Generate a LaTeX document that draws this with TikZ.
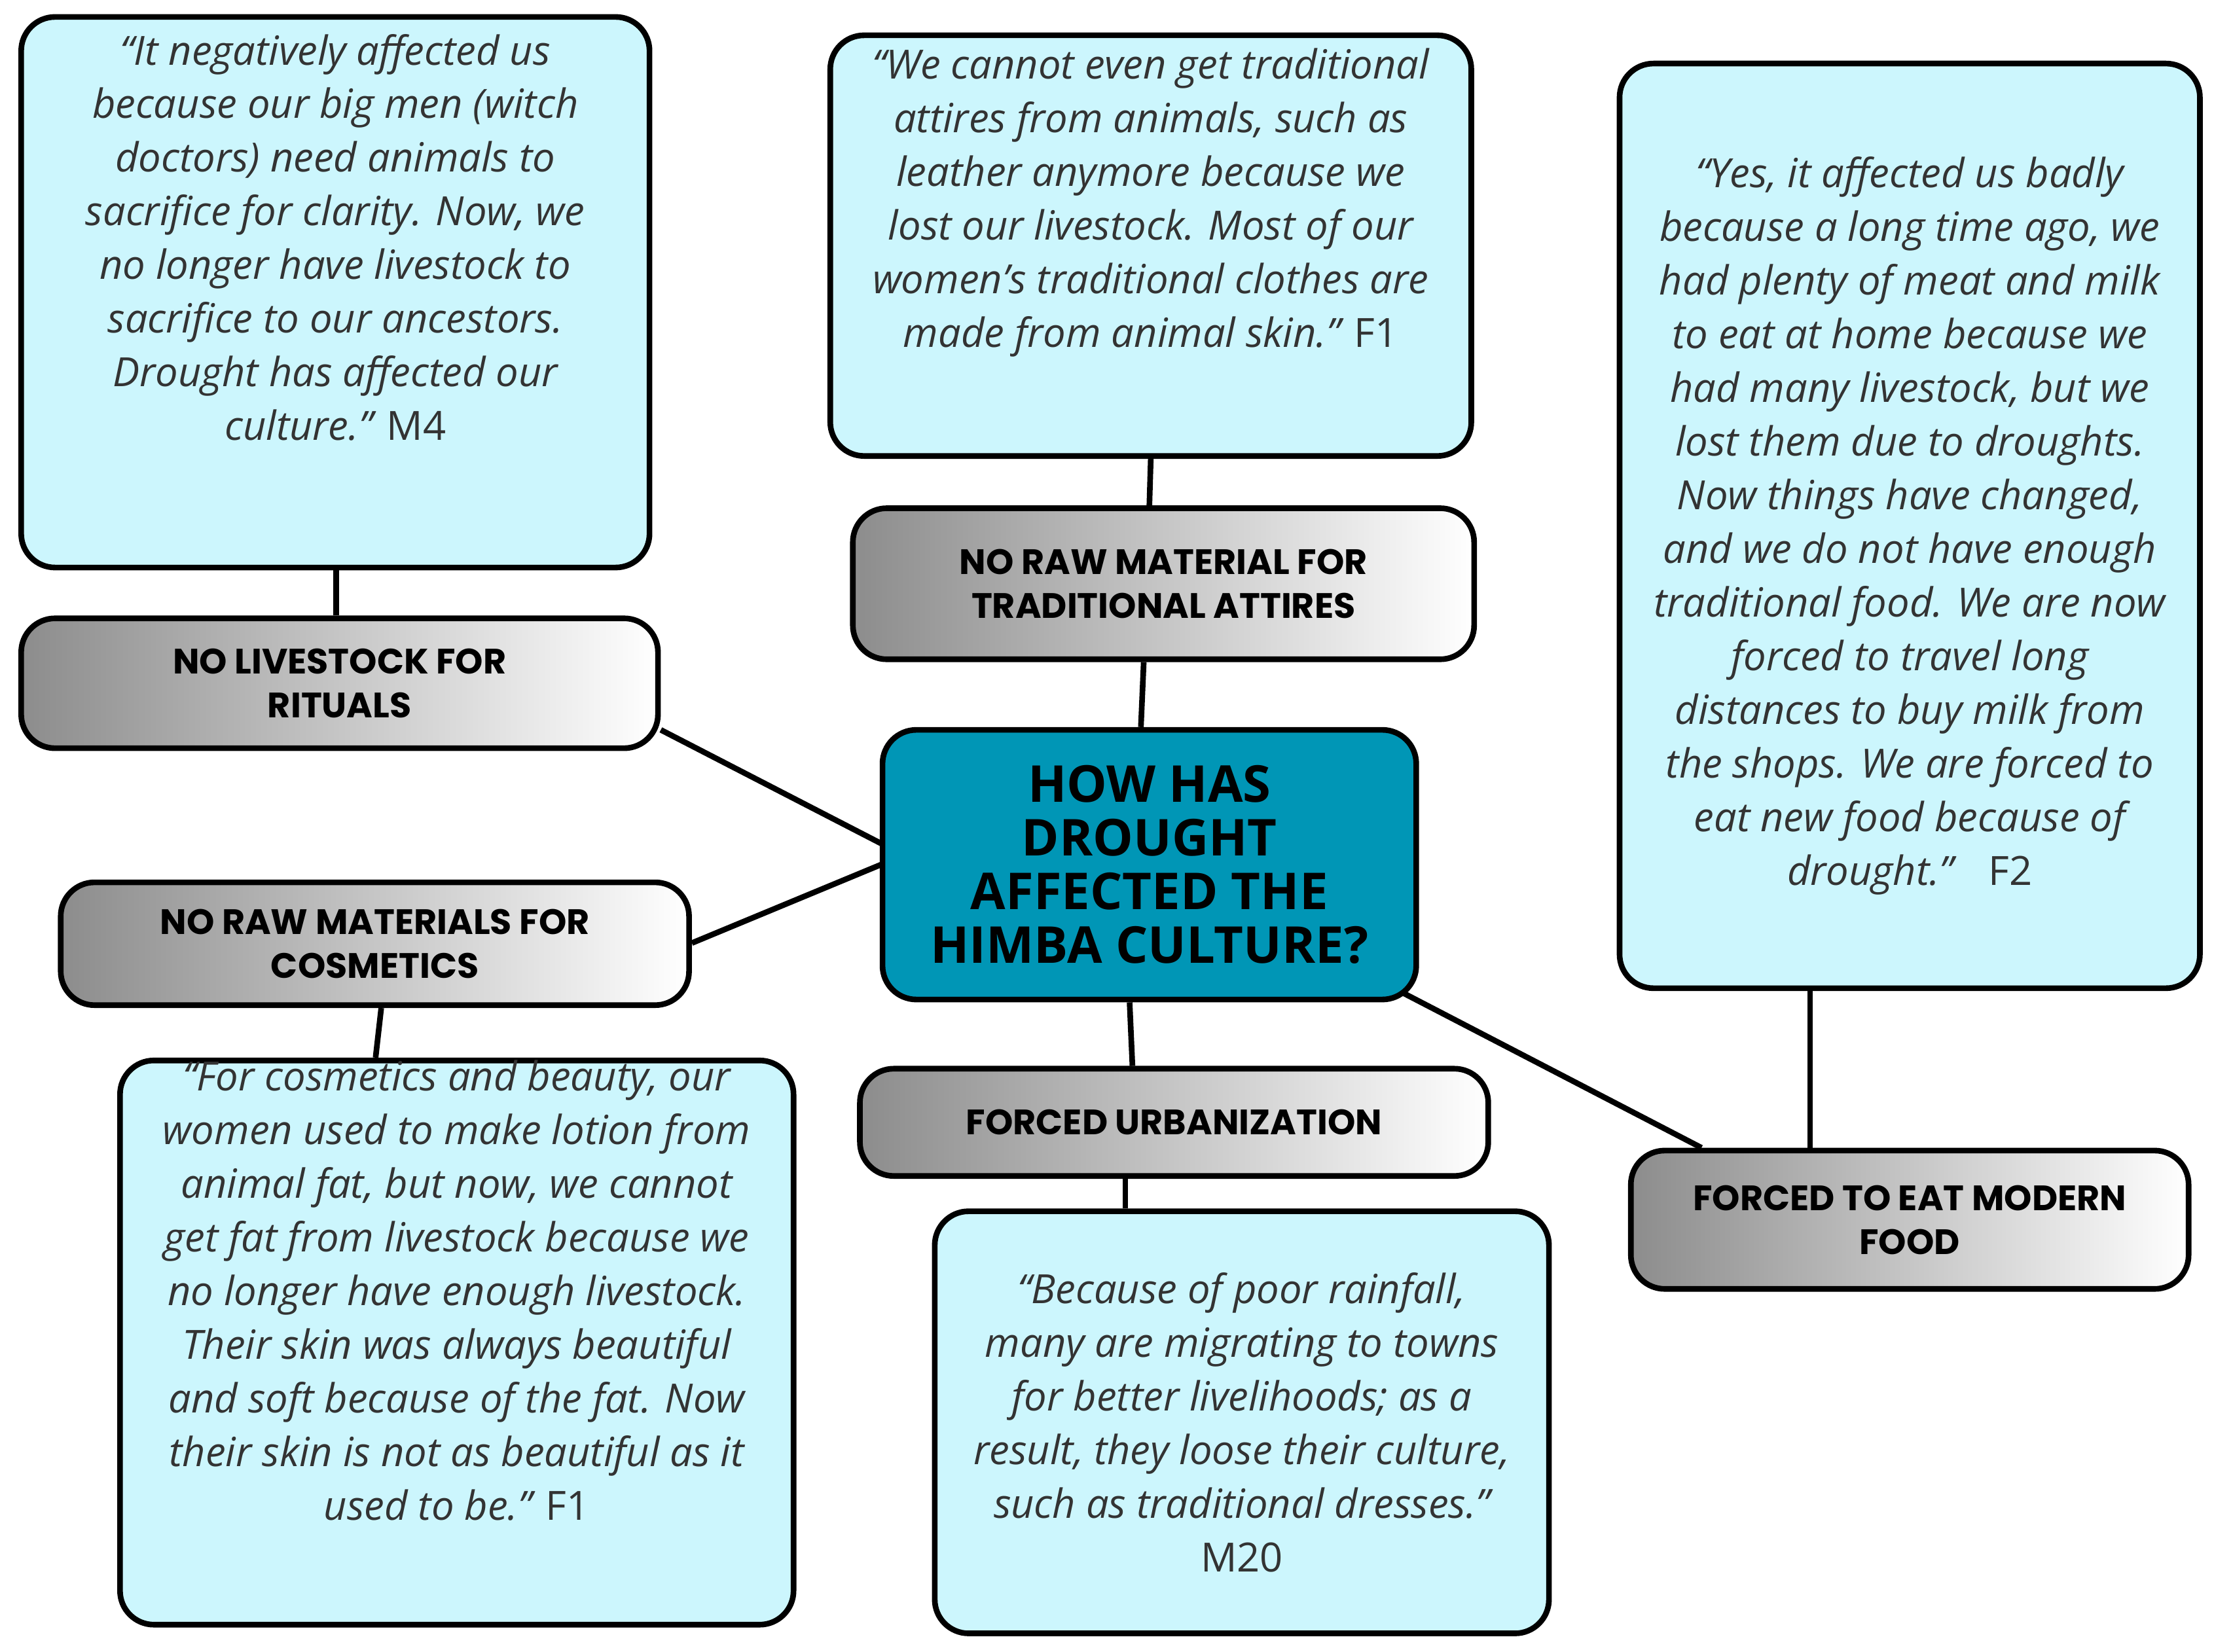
\documentclass[tikz,border=0pt]{standalone}
\usepackage{fontspec}
\setmainfont{Open Sans}
\newfontfamily\headfont{Poppins}
\newfontfamily\titlefont{Open Sans}
\definecolor{qfill}{HTML}{CCF6FD}
\definecolor{tfill}{HTML}{0096B6}
\definecolor{qtext}{HTML}{333333}
\begin{document}
\begin{tikzpicture}[x=1pt,y=-1pt,
 box/.style={draw=black,line width=4pt,rounded corners=24pt,align=center,inner sep=0pt},
 quote/.style={box,fill=qfill,text=qtext,font=\fontsize{28.5}{38}\selectfont\itshape},
 lab/.style={box,left color=black!45,right color=white,shading angle=90,font=\headfont\bfseries\fontsize{25}{31}\selectfont},
 con/.style={line width=4pt}]
\useasboundingbox (0,0) rectangle (1568,1170);
\node[quote,minimum width=445pt,minimum height=390pt] (q1) at (237.5,207) {“It negatively affected us\\because our big men (witch\\doctors) need animals to\\sacrifice for clarity. Now, we\\no longer have livestock to\\sacrifice to our ancestors.\\Drought has affected our\\culture.” \upshape M4\\[40pt]};
\node[quote,minimum width=454pt,minimum height=298pt] (q2) at (815,174) {“We cannot even get traditional\\attires from animals, such as\\leather anymore because we\\lost our livestock. Most of our\\women's traditional clothes are\\made from animal skin.” \upshape F1\\[30pt]};
\node[quote,minimum width=411pt,minimum height=655pt] (q3) at (1352.5,372.5) {“Yes, it affected us badly\\because a long time ago, we\\had plenty of meat and milk\\to eat at home because we\\had many livestock, but we\\lost them due to droughts.\\Now things have changed,\\and we do not have enough\\traditional food. We are now\\forced to travel long\\distances to buy milk from\\the shops. We are forced to\\eat new food because of\\drought.” \upshape\ \ F2};
\node[quote,minimum width=477pt,minimum height=388pt] (q4) at (323.5,951) {“For cosmetics and beauty, our\\women used to make lotion from\\animal fat, but now, we cannot\\get fat from livestock because we\\no longer have enough livestock.\\Their skin was always beautiful\\and soft because of the fat. Now\\their skin is not as beautiful as it\\used to be.” \upshape F1\\[36pt]};
\node[quote,minimum width=435pt,minimum height=299pt] (q5) at (879.5,1007.5) {“Because of poor rainfall,\\many are migrating to towns\\for better livelihoods; as a\\result, they loose their culture,\\such as traditional dresses.”\\\upshape M20};
\node[lab,minimum width=451pt,minimum height=92pt] (A) at (240.5,484) {NO LIVESTOCK FOR\\RITUALS};
\node[lab,minimum width=440pt,minimum height=107pt] (B) at (824,413.5) {NO RAW MATERIAL FOR\\TRADITIONAL ATTIRES};
\node[lab,minimum width=445pt,minimum height=87pt] (C) at (265.5,668.5) {NO RAW MATERIALS FOR\\COSMETICS};
\node[lab,minimum width=445pt,minimum height=76pt] (D) at (831.5,795) {FORCED URBANIZATION};
\node[lab,minimum width=395pt,minimum height=98pt] (E) at (1352.5,864) {FORCED TO EAT MODERN\\FOOD};
\node[box,fill=tfill,minimum width=378pt,minimum height=191pt,font=\titlefont\bfseries\fontsize{36}{38}\selectfont] (T) at (814,612.5) {HOW HAS\\DROUGHT\\AFFECTED THE\\HIMBA CULTURE?};
\coordinate (tl) at (625,598); \coordinate (tl2) at (625,612);
\coordinate (te) at (993,703);
\draw[con] (A.east |- 0,517) -- (tl);
\draw[con] (C.east |- 0,668) -- (tl2);
\draw[con] (T.north -| 808,0) -- (B.south -| 810,0);
\draw[con] (T.south -| 800,0) -- (D.north -| 802,0);
\draw[con] (te) -- (E.north -| 1205,0);
\draw[con] (A.north -| 238,0) -- (q1.south -| 238,0);
\draw[con] (B.north -| 814,0) -- (q2.south -| 815,0);
\draw[con] (C.south -| 270,0) -- (q4.north -| 266,0);
\draw[con] (D.south -| 797,0) -- (q5.north -| 797,0);
\draw[con] (E.north -| 1282,0) -- (q3.south -| 1282,0);
\end{tikzpicture}
\end{document}
